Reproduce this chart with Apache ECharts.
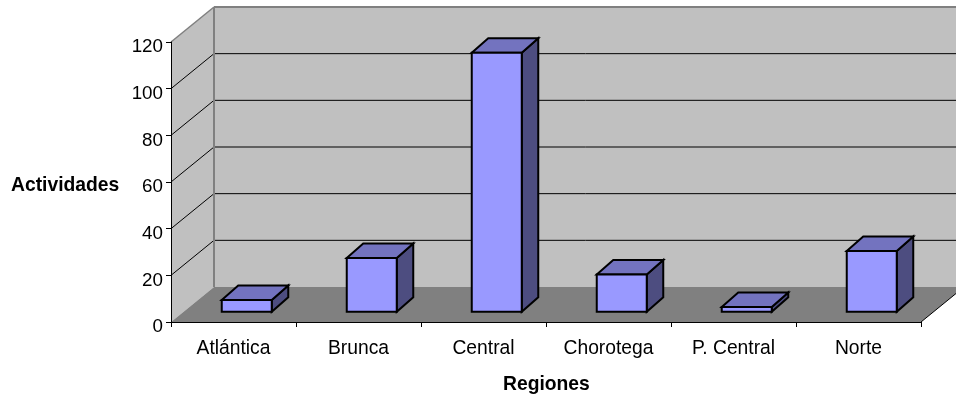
<!DOCTYPE html>
<html>
<head>
<meta charset="utf-8">
<style>html,body{margin:0;padding:0;background:#fff}#chart{width:956px;height:396px}</style>
<script src="https://cdn.jsdelivr.net/npm/echarts@6/dist/echarts.min.js"></script>
</head>
<body>
<div id="chart"></div>
<script>
// Actividades por región
const categories = ['Atlántica', 'Brunca', 'Central', 'Chorotega', 'P. Central', 'Norte'];
const actividades = [5, 23, 111, 16, 2, 26];
const gridValues = [20, 40, 60, 80, 100, 120];

const FONT = '"Liberation Sans", Arial, sans-serif';
const LABEL_SIZE = 19.3;

// Oblique projection of the 3D box: depth of the whole chart and of one column
const DEPTH_X = 43, DEPTH_Y = 35;
const BAR_DX = 16.5, BAR_DY = 14.5;
const BAR_WIDTH_RATIO = 0.4;

const chart = echarts.init(document.getElementById('chart'), null, { renderer: 'canvas' });

function poly(points, fill, stroke, lineWidth, z2) {
  return {
    type: 'polygon', z2: z2 || 0,
    shape: { points },
    style: { fill, stroke: stroke || 'none', lineWidth: lineWidth || 0, lineJoin: 'miter' }
  };
}
function seg(a, b, stroke, lineWidth, z2) {
  return {
    type: 'line', z2: z2 || 1,
    shape: { x1: a[0], y1: a[1], x2: b[0], y2: b[1] },
    style: { stroke, lineWidth, fill: 'none' }
  };
}

// Floor, side wall and back wall, hung on the axis scales
function renderBox(params, api) {
  const band = api.size([1, 0])[0];
  const left = api.coord([0, 0])[0] - band / 2;
  const right = left + band * categories.length;
  const y0 = api.coord([0, 0])[1];
  const yTop = api.coord([0, 120])[1];
  const back = (p) => [p[0] + DEPTH_X, p[1] - DEPTH_Y];
  const edge = '#808080';
  const children = [
    poly([back([left, yTop]), back([right, yTop]), back([right, y0]), back([left, y0])], '#c0c0c0'),
    poly([[left, yTop], back([left, yTop]), back([left, y0]), [left, y0]], '#c0c0c0'),
    poly([[left, y0], back([left, y0]), back([right, y0]), [right, y0]], '#808080'),
    seg([left, yTop], back([left, yTop]), edge, 1.5, 2),
    seg(back([left, yTop]), back([right, yTop]), edge, 2, 2),
    seg(back([left, yTop]), back([left, y0]), edge, 2, 2),
    seg([right, y0], back([right, y0]), '#000', 1, 2)
  ];
  gridValues.forEach((v) => {
    const y = api.coord([0, v])[1];
    if (v < 120) {
      children.push(seg([left, y], back([left, y]), '#000', 1));
      children.push(seg(back([left, y]), back([right, y]), '#000', 1));
    }
  });
  return { type: 'group', children };
}

// One column: front, top and shaded side faces
function renderColumn(params, api) {
  const band = api.size([1, 0])[0];
  const w = band * BAR_WIDTH_RATIO;
  const base = api.coord([api.value(0), 0]);
  const top = api.coord([api.value(0), api.value(1)]);
  const offX = (DEPTH_X - BAR_DX) / 2, offY = (DEPTH_Y - BAR_DY) / 2;
  const x0 = base[0] - w / 2 + offX, x1 = x0 + w;
  const yb = base[1] - offY, yt = top[1] - offY;
  const s = { stroke: '#000', lw: 2 };
  return {
    type: 'group',
    children: [
      poly([[x1, yt], [x1 + BAR_DX, yt - BAR_DY], [x1 + BAR_DX, yb - BAR_DY], [x1, yb]], '#4d4d80', s.stroke, s.lw),
      poly([[x0, yt], [x0 + BAR_DX, yt - BAR_DY], [x1 + BAR_DX, yt - BAR_DY], [x1, yt]], '#7373bf', s.stroke, s.lw),
      poly([[x0, yt], [x1, yt], [x1, yb], [x0, yb]], '#9999ff', s.stroke, s.lw)
    ]
  };
}

chart.setOption({
  animation: false,
  backgroundColor: '#fff',
  textStyle: { fontFamily: FONT },
  grid: { left: 171, right: 35, top: 42, bottom: 74, containLabel: false },
  xAxis: {
    type: 'category',
    data: categories,
    z: 10,
    boundaryGap: true,
    axisLine: { show: true, lineStyle: { color: '#000', width: 1 } },
    axisTick: { show: true, alignWithLabel: false, length: 5, lineStyle: { color: '#000' } },
    axisLabel: { color: '#000', fontSize: LABEL_SIZE, fontFamily: FONT, margin: 17, interval: 0 },
    splitLine: { show: false }
  },
  yAxis: {
    type: 'value',
    min: 0, max: 120, interval: 20,
    z: 10,
    axisLine: { show: true, lineStyle: { color: '#000', width: 1 } },
    axisTick: { show: true, length: 5, lineStyle: { color: '#000' } },
    axisLabel: { color: '#000', fontSize: 18.8, fontFamily: FONT, margin: 8, verticalAlign: 'top', lineHeight: 10 },
    splitLine: { show: false }
  },
  graphic: [
    { type: 'text', left: 11, top: 176, style: { text: 'Actividades', font: 'bold ' + LABEL_SIZE + 'px ' + FONT, fill: '#000' } },
    { type: 'text', left: 503, top: 375, style: { text: 'Regiones', font: 'bold ' + LABEL_SIZE + 'px ' + FONT, fill: '#000' } }
  ],
  series: [
    {
      type: 'custom', name: 'Fondo', silent: true, z: 1, clip: false,
      renderItem: renderBox, data: [[0, 0]], encode: { x: 0, y: 1 }, tooltip: { show: false }
    },
    {
      type: 'custom', name: 'Actividades', z: 3, clip: false,
      renderItem: renderColumn,
      data: actividades.map((v, i) => [i, v]),
      encode: { x: 0, y: 1 }
    }
  ]
});
</script>
</body>
</html>
